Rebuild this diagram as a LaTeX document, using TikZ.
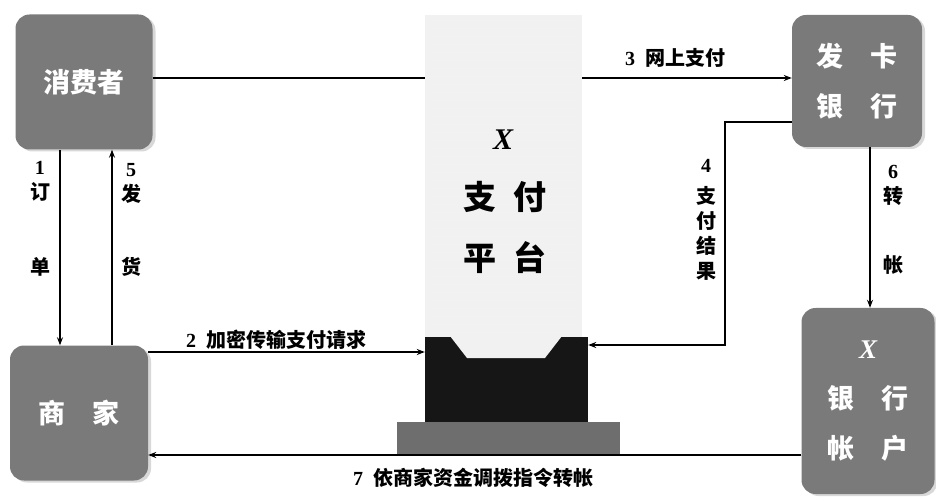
\documentclass[tikz,border=0pt]{standalone}
\usepackage{fontspec}
\setmainfont{Liberation Serif}
\newfontfamily\cjk{Noto Sans CJK SC}
\usetikzlibrary{positioning,arrows.meta,shadows}

\definecolor{boxgray}{HTML}{7A7A7A}
\definecolor{pillargray}{HTML}{F1F1F1}
\definecolor{standblack}{HTML}{161616}
\definecolor{basegray}{HTML}{6E6E6E}

\newcommand{\stepno}[1]{{\rmfamily\bfseries #1}}

\tikzset{
  party/.style={draw=none, fill=boxgray, rounded corners=14pt, text=white, align=center,
    font=\cjk\bfseries\fontsize{27}{50}\selectfont,
    drop shadow={shadow xshift=3pt, shadow yshift=-2pt, fill=gray!60}},
  flow/.style={line width=1.2pt, -{Stealth[length=8pt,width=6pt]}},
  lab/.style={font=\cjk\bfseries\fontsize{20}{25}\selectfont, align=center, inner sep=1pt},
}

\begin{document}
\begin{tikzpicture}[x=1pt,y=-1pt]
\useasboundingbox (0,0) rectangle (936,502);

% 参与方
\node[party, minimum width=137pt, minimum height=135pt] (consumer) at (84,82) {消费者};
\node[party, minimum width=130pt, minimum height=132pt] (issuer) at (857,81) {发\quad 卡\\银\quad 行};
\node[party, minimum width=138pt, minimum height=135pt] (merchant) at (79,413) {商\quad 家};
\node[party, minimum width=133pt, minimum height=186pt] (account) at (868,401) {{\rmfamily\itshape X}\\银\quad 行\\帐\quad 户};

% 网上支付的线 (在平台后面)
\coordinate (c3) at (0,78);
\draw[flow] (consumer.east |- c3) -- (issuer.west |- c3);

% 支付平台
\fill[pillargray] (425,15) rectangle (582,345);
\foreach \y in {20,28,...,340}
  \draw[gray!10, line width=0.4pt] (428,\y) -- (579,\y);
\node[font=\rmfamily\bfseries\itshape\fontsize{30}{30}\selectfont] (px) at (503,140) {X};
\node[font=\cjk\bfseries\fontsize{33}{33}\selectfont] (pz) at (505,197) {支\hspace{18pt}付};
\node[font=\cjk\bfseries\fontsize{33}{33}\selectfont] (pp) at (505,258) {平\hspace{18pt}台};

\node[fill=standblack, draw=none, inner sep=0pt, minimum width=163pt, minimum height=85pt] (stand) at (506.5,379.5) {};
\fill[pillargray] (450,336) -- (467,358) -- (545,358) -- (562,336) -- cycle;
\fill[basegray] (397,422) rectangle (620,454);

% 流程箭头
\coordinate (c1) at (60,0);
\coordinate (c5) at (112,0);
\draw[flow] (consumer.south -| c1) -- (merchant.north -| c1);
\draw[flow] (merchant.north -| c5) -- (consumer.south -| c5);

\coordinate (c2) at (0,352);
\draw[flow] (merchant.east |- c2) -- (stand.west |- c2);

\coordinate (k4) at (725,122);
\coordinate (r4) at (725,345);
\draw[flow] (issuer.west |- k4) -- (k4) -- (r4) -- (stand.east |- r4);

\coordinate (c6) at (870,0);
\draw[flow] (issuer.south -| c6) -- (account.north -| c6);

\coordinate (c7) at (0,455);
\draw[flow] (account.west |- c7) -- (merchant.east |- c7);

% 标签
\node[lab] (l1) at (40,181) {\stepno{1}\\订};
\node[lab] (l1b) at (40,267) {单};
\node[lab] (l5) at (131,183) {\stepno{5}\\发};
\node[lab] (l5b) at (131,267) {货};
\node[lab] (l2) at (276,340) {\stepno{2}\enspace 加密传输支付请求};
\node[lab] (l3) at (675,58) {\stepno{3}\enspace 网上支付};
\node[lab] (l4) at (706,220) {\stepno{4}\\[6pt]支\\付\\结\\果};
\node[lab] (l6) at (893,185) {\stepno{6}\\转};
\node[lab] (l6b) at (893,265) {帐};
\node[lab] (l7) at (473,478) {\stepno{7}\enspace 依商家资金调拨指令转帐};

\end{tikzpicture}
\end{document}
